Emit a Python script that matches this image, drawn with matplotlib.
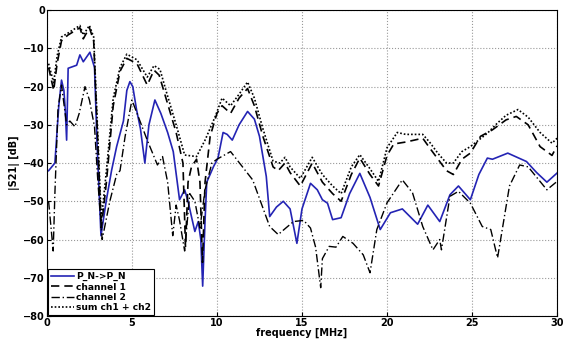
import matplotlib
matplotlib.use("Agg")
import matplotlib.pyplot as plt

# frequency [MHz] / |S21| [dB]
f_pn = [0.1, 0.47, 0.7, 0.86, 1.0, 1.08, 1.16, 1.25, 1.75, 1.94, 2.14, 2.53, 2.8, 2.95,
        3.18, 3.5, 3.8, 4.1, 4.5, 4.7, 4.88, 5.05, 5.27, 5.5, 5.76, 6.0, 6.35, 6.7, 7.1,
        7.43, 7.8, 8.1, 8.3, 8.5, 8.7, 8.9, 9.05, 9.16, 9.3, 9.4, 9.8, 10.06, 10.36, 10.6,
        10.9, 11.3, 11.8, 12.2, 12.5, 12.9, 13.1, 13.5, 13.9, 14.3, 14.7, 15.0, 15.5, 15.9,
        16.2, 16.5, 16.8, 17.3, 17.8, 18.4, 19.0, 19.6, 20.2, 20.9, 21.8, 22.4, 23.1, 23.7,
        24.2, 24.9, 25.4, 25.9, 26.2, 27.1, 28.2, 28.8, 29.4, 30.0]
s_pn = [-42, -40, -25, -18.3, -21, -26, -34, -15.2, -14.4, -11.7, -13.5, -11, -15, -35,
        -59, -49.6, -42, -35.7, -29, -21, -18.7, -20, -26, -31, -40, -30, -23.5, -27, -32,
        -37, -49.6, -47, -50, -54, -57.9, -55.3, -60, -72.2, -55, -45, -40.9, -38.7, -32, -32.5,
        -34, -30, -26.5, -28.5, -33, -43.5, -54, -51.5, -50, -52, -61, -52, -45.3, -47,
        -49.6, -50.5, -54.8, -54.3, -48, -42.7, -49, -57.4, -53, -52, -56, -51, -55.3, -48.3,
        -46, -49.6, -43, -38.7, -39, -37.4, -39.6, -42.5, -45, -42.6]

f_ch1 = [0.1, 0.4, 0.6, 0.86, 1.24, 1.94, 2.14, 2.5, 2.75, 2.95, 3.2, 3.5, 3.9, 4.3, 4.7,
         5.3, 5.9, 6.3, 6.6, 7.0, 7.6, 8.0, 8.15, 8.3, 8.5, 8.8, 9.0, 9.15, 9.3, 9.6, 10.0,
         10.3, 10.8, 11.3, 11.8, 12.2, 12.7, 13.3, 13.6, 14.0, 14.3, 14.9, 15.6, 16.2, 16.8,
         17.3, 17.9, 18.4, 19.0, 19.5, 20.0, 20.4, 21.1, 22.1, 22.5, 23.0, 23.5, 23.9, 24.4,
         24.9, 25.5, 26.2, 27.0, 27.6, 28.3, 29.0, 29.7, 30.0]
s_ch1 = [-15, -21, -14, -8, -6.5, -4.6, -7.5, -4.6, -8, -30, -57, -45, -25, -16, -12.6,
         -14, -19.6, -15.7, -17, -23, -32, -40, -62, -45, -41, -39, -45, -66, -45, -33, -27,
         -25, -27, -23, -20.5, -25, -33, -41, -42, -40, -42.5, -46, -40, -45, -48,
         -50, -43, -38.7, -43, -46, -38, -35, -34.5, -33.5, -36, -39, -42, -43, -39,
         -37.4, -33, -31.3, -28.7, -27.8, -30, -35.7, -38, -35.5]

f_ch2 = [0.1, 0.37, 0.47, 0.65, 0.86, 1.16, 1.35, 1.65, 1.9, 2.24, 2.5, 2.8, 3.0, 3.25,
         3.7, 4.1, 4.3, 4.6, 5.0, 5.3, 5.9, 6.5, 6.8, 7.1, 7.4, 7.6, 7.8, 8.1, 8.4, 8.7,
         9.0, 9.3, 9.7, 10.0, 10.8, 12.1, 13.1, 13.6, 14.5, 15.1, 15.5, 15.8, 16.1, 16.2,
         16.6, 17.0, 17.4, 18.0, 18.6, 19.0, 19.4, 20.0, 20.9, 21.5, 22.1, 22.7, 23.1, 23.2,
         23.7, 24.2, 24.9, 25.6, 26.1, 26.5, 27.2, 27.8, 28.3, 29.4, 30.0]
s_ch2 = [-50, -63, -48, -26, -19.6, -30, -29, -30.5, -27, -20, -23.5, -30.5, -45, -60,
         -50, -43, -42, -33, -23.5, -27, -34, -40.5, -38.3, -45, -59, -51, -55, -63, -48, -50,
         -57, -47, -40, -39, -37, -44.4, -56.6, -58.7, -55.3, -55, -57, -62, -72.6, -65,
         -61.8, -62, -59.2, -61, -64, -68.7, -57.4, -50.4, -44.4, -47.8, -56.6, -62.7, -60, -62.7,
         -48.7, -47.4, -50.5, -56.6, -57.4, -64.8, -46, -40.5, -41, -47, -44.8]

f_sum = [0.1, 0.4, 0.6, 0.86, 1.24, 1.94, 2.14, 2.5, 2.75, 2.95, 3.2, 3.5, 3.9, 4.3, 4.7,
         5.3, 5.9, 6.3, 6.65, 7.0, 7.6, 8.1, 8.8, 9.3, 9.9, 10.3, 10.8, 11.3, 11.8, 12.2,
         12.7, 13.3, 13.7, 14.0, 14.3, 14.9, 15.6, 16.2, 16.8, 17.3, 17.9, 18.4, 19.0, 19.5,
         20.0, 20.6, 21.1, 22.1, 22.5, 23.0, 23.5, 23.9, 24.4, 24.9, 25.9, 26.5, 27.0, 27.7,
         28.3, 29.0, 29.7, 30.0]
s_sum = [-14, -19, -12, -7, -6, -4, -6.5, -4, -7, -28, -55, -42, -23, -15, -11.5,
         -13, -17.5, -14.5, -15.5, -21, -30, -37.9, -38.3, -34, -27.8, -23, -25, -22, -18.8, -23,
         -31, -39.5, -40, -38.5, -41, -44, -38.5, -43, -46, -48, -41, -37.8, -41.5, -44.8,
         -36, -32, -32.5, -32.5, -34.5, -37.5, -40, -40, -37, -35.7, -32.2, -29.5, -27.5, -26,
         -28, -32, -34.8, -33.5]

fig = plt.figure(figsize=(5.65, 3.39), dpi=100)
ax = fig.add_axes([0.083, 0.068, 0.903, 0.902])

ax.plot(f_pn, s_pn, color="#2424b4", lw=1.2, label="P_N->P_N")
ax.plot(f_ch1, s_ch1, color="black", lw=1.2, ls=(0, (5, 3)), label="channel 1")
ax.plot(f_ch2, s_ch2, color="black", lw=1.0, ls=(0, (6, 2, 1, 2)), label="channel 2")
ax.plot(f_sum, s_sum, color="black", lw=1.2, ls=(0, (1, 1.2)), label="sum ch1 + ch2")

ax.set_xlim(0, 30)
ax.set_ylim(-80, 0)
ax.set_xticks(range(0, 31, 5))
ax.set_yticks(range(-80, 1, 10))
ax.grid(True, ls=":", color="#999999", lw=0.8)
ax.tick_params(labelsize=7, direction="in", length=3, pad=1.5)
for lab in ax.get_xticklabels() + ax.get_yticklabels():
    lab.set_fontweight("bold")
ax.set_xlabel("frequency [MHz]", fontsize=7, fontweight="bold", labelpad=0)
ax.set_ylabel("|S21| [dB]", fontsize=7, fontweight="bold", labelpad=2)

leg = ax.legend(loc="lower left", prop={"weight": "bold", "size": 6.6},
                handlelength=2.6, handletextpad=0.2, labelspacing=0.15,
                borderpad=0.3, borderaxespad=0.1, fancybox=False, framealpha=1)
leg.get_frame().set_edgecolor("black")
leg.get_frame().set_linewidth(0.8)

fig.savefig("out.png", dpi=100)
